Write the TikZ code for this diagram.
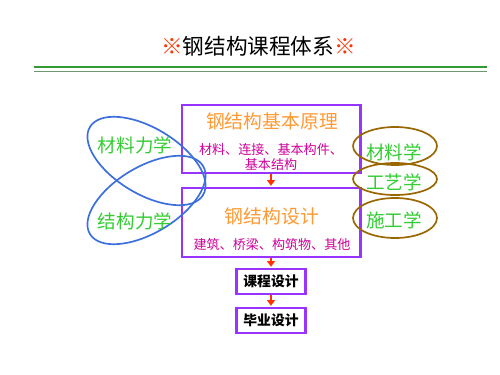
\documentclass[tikz,border=0pt]{standalone}
\usepackage{fontspec}
\setmainfont{Noto Sans CJK SC}
\usetikzlibrary{arrows.meta}
\definecolor{kuang}{RGB}{153,51,255}
\definecolor{cheng}{RGB}{255,153,51}
\definecolor{zi}{RGB}{204,0,153}
\definecolor{lv}{RGB}{51,204,51}
\definecolor{lan}{RGB}{60,110,220}
\definecolor{zong}{RGB}{153,102,0}
\definecolor{hong}{RGB}{255,51,0}
\definecolor{xian}{RGB}{51,153,51}
\definecolor{huixian}{RGB}{110,150,110}

\begin{document}
\begin{tikzpicture}[x=0.025cm, y=-0.025cm,
    box/.style={draw=kuang, line width=2.1pt, minimum width=4.45cm, minimum height=1.7cm},
    smallbox/.style={draw=kuang, line width=2.1pt, minimum width=1.725cm, minimum height=0.625cm,
        inner sep=0pt, font=\fontsize{9.8}{11}\selectfont\bfseries},
    head/.style={text=cheng, font=\fontsize{13.4}{15}\selectfont},
    sub/.style={text=zi, font=\fontsize{9.3}{10.7}\selectfont, align=center},
    ke/.style={text=lv, font=\fontsize{13.2}{15}\selectfont},
    jt/.style={draw=hong, line width=1.5pt, -{Triangle[length=4pt, width=5.5pt]}, shorten >=0.5pt}
]
    \useasboundingbox (0,0) rectangle (500,375);

    % title and rule
    \node[font=\fontsize{15.4}{18}\selectfont] (title) at (258.5,46)
        {\textcolor{hong}{※}钢结构课程体系\textcolor{hong}{※}};
    \draw[line width=2.1pt, xian] (34,67) -- (487,67);
    \draw[line width=0.8pt, huixian] (34,71.5) -- (487,71.5);

    % main boxes
    \node[box] (yl) at (271,139) {};
    \node[box, minimum height=1.725cm] (sj) at (271,222.5) {};
    \node[smallbox] (kc) at (271,281.5) {课程设计};
    \node[smallbox] (by) at (271,320.5) {毕业设计};
    \node[head] (ylt) at (272,121) {钢结构基本原理};
    \node[sub] (yls) at (271,157.5) {材料、连接、基本构件、\\基本结构};
    \node[head] (sjt) at (272,216) {钢结构设计};
    \node[sub] (sjs) at (272,245) {建筑、桥梁、构筑物、其他};
    \draw[jt] (yl) -- (sj);
    \draw[jt] (sj) -- (kc);
    \draw[jt] (kc) -- (by);

    % mechanics courses
    \draw[lan, line width=1.2pt, rotate around={-31:(146.5,161)}]
        (146.5,161) ellipse [x radius=66, y radius=33];
    \draw[lan, line width=1.2pt, rotate around={31:(146.5,200)}]
        (146.5,200) ellipse [x radius=66, y radius=33];
    \node[ke] (cllx) at (135,145) {材料力学};
    \node[ke] (jglx) at (135,221) {结构力学};

    % related courses
    \draw[zong, line width=1.2pt] (395,146) ellipse [x radius=42, y radius=19];
    \draw[zong, line width=1.2pt] (395,179) ellipse [x radius=42, y radius=16];
    \draw[zong, line width=1.2pt] (395,218) ellipse [x radius=42, y radius=20];
    \node[ke] (clx) at (394,152) {材料学};
    \node[ke] (gyx) at (394,182) {工艺学};
    \node[ke] (sgx) at (394,220) {施工学};
\end{tikzpicture}
\end{document}
